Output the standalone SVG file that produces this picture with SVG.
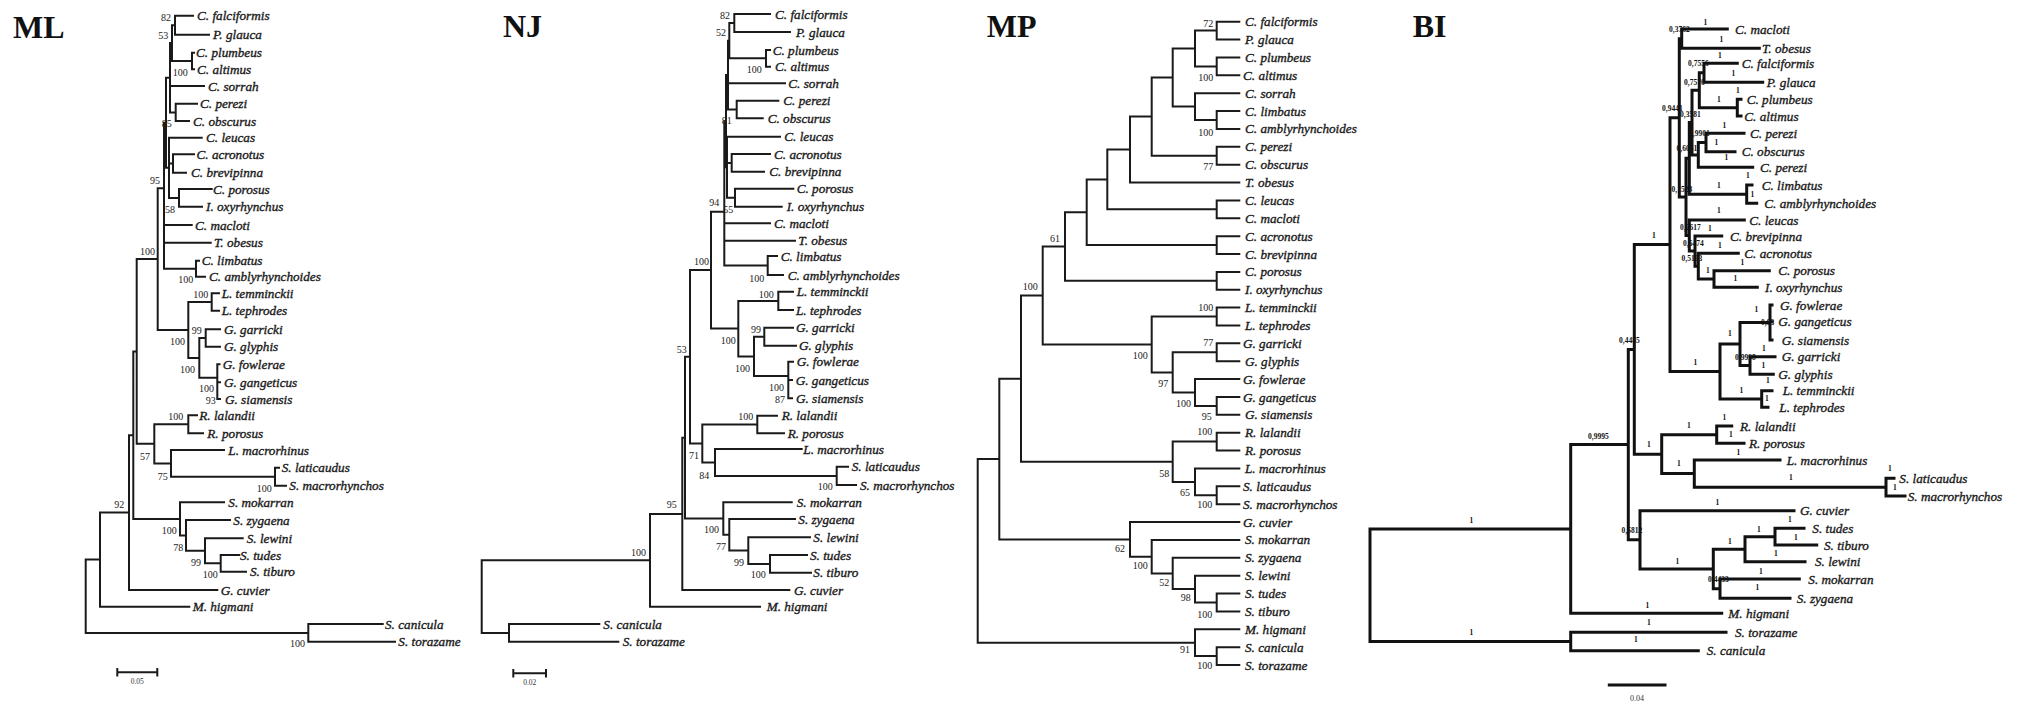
<svg xmlns="http://www.w3.org/2000/svg" width="2027" height="705" viewBox="0 0 2027 705">
<style>
.br{fill:none;stroke:#1a1a1a;stroke-width:2;stroke-linecap:square}
.bb{fill:none;stroke:#111;stroke-width:3;stroke-linecap:square}
.lf{font-family:"Liberation Serif","Times New Roman",serif;font-style:italic;font-size:13.2px;fill:#1a1a1a;stroke:#1a1a1a;stroke-width:0.35}
.bs{font-family:"Liberation Serif","Times New Roman",serif;font-size:10px;fill:#222}
.pp{font-family:"Liberation Serif","Times New Roman",serif;font-size:7.5px;font-weight:bold;fill:#111}
.ti{font-family:"Liberation Serif","Times New Roman",serif;font-size:32px;font-weight:bold;fill:#111}
.sc{font-family:"Liberation Serif","Times New Roman",serif;font-size:7.5px;fill:#333;text-anchor:middle}
</style>
<rect width="2027" height="705" fill="#fff"/>

<g id="tree-ML">
<text class="ti" x="13" y="38">ML</text>
<g id="ml-connectors">
<path class="br" d="M175,15.7V34.7M175,15.7H193M175,34.7H209M192,52.7V69.3M192,52.7H194M192,69.3H194M172,25.2V61M172,25.2H175M172,61H192M175.7,103.7V121M175.7,103.7H197M175.7,121H189M170,43.1V112.4M170,43.1H172M170,86H204M170,112.4H175.7M173,154.3V172.7M173,154.3H194M173,172.7H186M179,189V206.7M179,189H211.7M179,206.7H202M169,137.7V197.9M169,137.7H201.7M169,163.5H173M169,197.9H179M166,77.7V167.8M166,77.7H170M166,167.8H169M196,260.7V276.7M196,260.7H199M196,276.7H205M164,122.8V268.7M164,122.8H166M164,225H191.7M164,242.7H210.7M164,268.7H196M211.7,293.3V310.7M211.7,293.3H219M211.7,310.7H219M205.7,329.3V346.7M205.7,329.3H220M205.7,346.7H220M217.3,364.3V399M217.3,364.3H219.5M217.3,382.3H220M217.3,399H220M199.3,338V377.7M199.3,338H205.7M199.3,377.7H217.3M188.3,302V357.9M188.3,302H211.7M188.3,357.9H199.3M157.7,188.3V330M157.7,188.3H164M157.7,330H188.3M188.3,415.3V433.3M188.3,415.3H197M188.3,433.3H203M275,467.7V485.7M275,467.7H279M275,485.7H286M171,450V476.7M171,450H224M171,476.7H275M154.3,424.3V463.4M154.3,424.3H188.3M154.3,463.4H171M136.7,259V443.8M136.7,259H157.7M136.7,443.8H154.3M220.7,555V571.7M220.7,555H239.3M220.7,571.7H246M205,538.3V563.3M205,538.3H242.7M205,563.3H220.7M186,520V550.8M186,520H230M186,550.8H205M180,502.3V535.4M180,502.3H224M180,535.4H186M133.3,351.4V518.9M133.3,351.4H136.7M133.3,518.9H180M129,435.2V590M129,435.2H133.3M129,590H217.3M100,512.6V606.7M100,512.6H129M100,606.7H189.3M308.3,624V641.7M308.3,624H382.7M308.3,641.7H395M85.7,559.6V632.9M85.7,559.6H100M85.7,632.9H308.3"/>
<path class="br" stroke-width="1" d="M117.3,672.3H157.3M117.3,669V675.6M157.3,669V675.6"/>
</g>
<g id="ml-leaves">
<text class="lf" x="197" y="20.2">C. falciformis</text>
<text class="lf" x="213" y="39.2">P. glauca</text>
<text class="lf" x="196" y="57.2">C. plumbeus</text>
<text class="lf" x="197" y="73.8">C. altimus</text>
<text class="lf" x="208" y="90.5">C. sorrah</text>
<text class="lf" x="200" y="108.2">C. perezi</text>
<text class="lf" x="193" y="125.5">C. obscurus</text>
<text class="lf" x="206" y="142.2">C. leucas</text>
<text class="lf" x="196.5" y="158.8">C. acronotus</text>
<text class="lf" x="191" y="177.2">C. brevipinna</text>
<text class="lf" x="213" y="193.5">C. porosus</text>
<text class="lf" x="206" y="211.2">I. oxyrhynchus</text>
<text class="lf" x="195" y="229.5">C. macloti</text>
<text class="lf" x="214" y="247.2">T. obesus</text>
<text class="lf" x="201.7" y="265.2">C. limbatus</text>
<text class="lf" x="209" y="281.2">C. amblyrhynchoides</text>
<text class="lf" x="221.7" y="297.8">L. temminckii</text>
<text class="lf" x="221.7" y="315.2">L. tephrodes</text>
<text class="lf" x="224" y="333.8">G. garricki</text>
<text class="lf" x="224" y="351.2">G. glyphis</text>
<text class="lf" x="222.7" y="368.8">G. fowlerae</text>
<text class="lf" x="224" y="386.8">G. gangeticus</text>
<text class="lf" x="225" y="403.5">G. siamensis</text>
<text class="lf" x="199.3" y="419.8">R. lalandii</text>
<text class="lf" x="207.3" y="437.8">R. porosus</text>
<text class="lf" x="228.3" y="454.5">L. macrorhinus</text>
<text class="lf" x="281.7" y="472.2">S. laticaudus</text>
<text class="lf" x="289.3" y="490.2">S. macrorhynchos</text>
<text class="lf" x="228.3" y="506.8">S. mokarran</text>
<text class="lf" x="233.3" y="524.5">S. zygaena</text>
<text class="lf" x="246.7" y="542.8">S. lewini</text>
<text class="lf" x="240" y="559.5">S. tudes</text>
<text class="lf" x="250" y="576.2">S. tiburo</text>
<text class="lf" x="220.7" y="594.5">G. cuvier</text>
<text class="lf" x="192.7" y="611.2">M. higmani</text>
<text class="lf" x="385" y="628.5">S. canicula</text>
<text class="lf" x="398.3" y="646.2">S. torazame</text>
</g>
<g id="ml-support">
<text class="bs" x="161" y="20.5">82</text>
<text class="bs" x="158.3" y="39">53</text>
<text class="bs" x="172.7" y="76">100</text>
<text class="bs" x="161.7" y="127">85</text>
<text class="bs" x="150" y="184">95</text>
<text class="bs" x="165" y="213">58</text>
<text class="bs" x="140" y="255">100</text>
<text class="bs" x="178.3" y="283">100</text>
<text class="bs" x="193.3" y="298">100</text>
<text class="bs" x="191.7" y="334">99</text>
<text class="bs" x="170" y="345">100</text>
<text class="bs" x="180" y="372.7">100</text>
<text class="bs" x="199" y="391.7">100</text>
<text class="bs" x="205.7" y="404">93</text>
<text class="bs" x="168.3" y="420">100</text>
<text class="bs" x="140" y="460">57</text>
<text class="bs" x="157.7" y="480">75</text>
<text class="bs" x="256.7" y="491.7">100</text>
<text class="bs" x="114.3" y="508.3">92</text>
<text class="bs" x="161.7" y="534">100</text>
<text class="bs" x="173.3" y="550.7">78</text>
<text class="bs" x="191" y="566">99</text>
<text class="bs" x="202.7" y="578.3">100</text>
<text class="bs" x="290" y="647.3">100</text>
<text class="sc" x="137.3" y="684">0.05</text>
</g>
</g>

<g id="tree-NJ">
<text class="ti" x="503" y="37.3">NJ</text>
<g id="nj-connectors">
<path class="br" d="M734.3,14V32M734.3,14H770M734.3,32H790M766,50V66.7M766,50H770M766,66.7H770M729.3,23V58.3M729.3,23H734.3M729.3,58.3H766M736.7,100.7V118.3M736.7,100.7H778.3M736.7,118.3H762.7M728,40.7V109.5M728,40.7H729.3M728,83.3H785M728,109.5H736.7M731.7,154V171.7M731.7,154H770M731.7,171.7H764M735,188.7V206.7M735,188.7H793.3M735,206.7H781.7M727,136.7V197.7M727,136.7H780M727,162.9H731.7M727,197.7H735M726,75.1V167.2M726,75.1H728M726,167.2H727M767.7,256V275M767.7,256H777M767.7,275H783M724.3,121.2V265.5M724.3,121.2H726M724.3,223.3H770M724.3,240.7H795M724.3,265.5H767.7M778.3,291.7V310M778.3,291.7H793M778.3,310H793M764.3,327.7V345.7M764.3,327.7H793M764.3,345.7H796M788.3,361.7V398.3M788.3,361.7H793M788.3,380H792M788.3,398.3H792M754,336.7V376M754,336.7H764.3M754,376H788.3M738.3,300.9V356.4M738.3,300.9H778.3M738.3,356.4H754M711,211.7V328.6M711,211.7H724.3M711,328.6H738.3M757.3,415.7V433.3M757.3,415.7H777M757.3,433.3H784M836.7,466.7V485M836.7,466.7H848M836.7,485H856M715,449V475.9M715,449H801.7M715,475.9H836.7M702.3,424.5V462.4M702.3,424.5H757.3M702.3,462.4H715M690,270V443.5M690,270H711M690,443.5H702.3M770,555V572.7M770,555H807M770,572.7H811M748.3,537.3V563.9M748.3,537.3H810M748.3,563.9H770M729.3,519V550.6M729.3,519H795M729.3,550.6H748.3M723.3,502.3V534.8M723.3,502.3H791.7M723.3,534.8H729.3M685,356.8V518.6M685,356.8H690M685,518.6H723.3M682.3,437.7V590M682.3,437.7H685M682.3,590H789.3M650,513.9V606.7M650,513.9H682.3M650,606.7H760M509,624V641.7M509,624H599.3M509,641.7H618.3M481.7,560.3V632.9M481.7,560.3H650M481.7,632.9H509"/>
<path class="br" stroke-width="1" d="M513.3,673.3H546M513.3,670V676.6M546,670V676.6"/>
</g>
<g id="nj-leaves">
<text class="lf" x="775" y="18.5">C. falciformis</text>
<text class="lf" x="796" y="36.5">P. glauca</text>
<text class="lf" x="772.7" y="54.5">C. plumbeus</text>
<text class="lf" x="775" y="71.2">C. altimus</text>
<text class="lf" x="788.3" y="87.8">C. sorrah</text>
<text class="lf" x="783.3" y="105.2">C. perezi</text>
<text class="lf" x="767.7" y="122.8">C. obscurus</text>
<text class="lf" x="784.3" y="141.2">C. leucas</text>
<text class="lf" x="774" y="158.5">C. acronotus</text>
<text class="lf" x="769.3" y="176.2">C. brevipinna</text>
<text class="lf" x="796.7" y="193.2">C. porosus</text>
<text class="lf" x="786.7" y="211.2">I. oxyrhynchus</text>
<text class="lf" x="774" y="227.8">C. macloti</text>
<text class="lf" x="798.3" y="245.2">T. obesus</text>
<text class="lf" x="780.7" y="260.5">C. limbatus</text>
<text class="lf" x="787.7" y="279.5">C. amblyrhynchoides</text>
<text class="lf" x="796.7" y="296.2">L. temminckii</text>
<text class="lf" x="796" y="314.5">L. tephrodes</text>
<text class="lf" x="796" y="332.2">G. garricki</text>
<text class="lf" x="799" y="350.2">G. glyphis</text>
<text class="lf" x="796.7" y="366.2">G. fowlerae</text>
<text class="lf" x="795.7" y="384.5">G. gangeticus</text>
<text class="lf" x="796" y="402.8">G. siamensis</text>
<text class="lf" x="781.7" y="420.2">R. lalandii</text>
<text class="lf" x="787.7" y="437.8">R. porosus</text>
<text class="lf" x="803.3" y="453.5">L. macrorhinus</text>
<text class="lf" x="851.7" y="471.2">S. laticaudus</text>
<text class="lf" x="860" y="489.5">S. macrorhynchos</text>
<text class="lf" x="796.7" y="506.8">S. mokarran</text>
<text class="lf" x="798.3" y="523.5">S. zygaena</text>
<text class="lf" x="813.3" y="541.8">S. lewini</text>
<text class="lf" x="810" y="559.5">S. tudes</text>
<text class="lf" x="813.3" y="577.2">S. tiburo</text>
<text class="lf" x="794" y="594.5">G. cuvier</text>
<text class="lf" x="766.7" y="611.2">M. higmani</text>
<text class="lf" x="603.3" y="628.5">S. canicula</text>
<text class="lf" x="622.7" y="646.2">S. torazame</text>
</g>
<g id="nj-support">
<text class="bs" x="720" y="19">82</text>
<text class="bs" x="716" y="36">52</text>
<text class="bs" x="746.7" y="72.5">100</text>
<text class="bs" x="721.7" y="124">81</text>
<text class="bs" x="709.3" y="206">94</text>
<text class="bs" x="723.3" y="213">55</text>
<text class="bs" x="694" y="265">100</text>
<text class="bs" x="749.3" y="282">100</text>
<text class="bs" x="758.7" y="297.5">100</text>
<text class="bs" x="751" y="333">99</text>
<text class="bs" x="720.7" y="344">100</text>
<text class="bs" x="676.7" y="352.5">53</text>
<text class="bs" x="735" y="371.7">100</text>
<text class="bs" x="769" y="390.7">100</text>
<text class="bs" x="775" y="403.3">87</text>
<text class="bs" x="738.3" y="420">100</text>
<text class="bs" x="689" y="459.3">71</text>
<text class="bs" x="699.3" y="479">84</text>
<text class="bs" x="817.7" y="490">100</text>
<text class="bs" x="666.7" y="508">95</text>
<text class="bs" x="704" y="533">100</text>
<text class="bs" x="716" y="550">77</text>
<text class="bs" x="734" y="566">99</text>
<text class="bs" x="750.7" y="578.3">100</text>
<text class="bs" x="631" y="556">100</text>
<text class="sc" x="529.7" y="685">0.02</text>
</g>
</g>

<g id="tree-MP">
<text class="ti" x="986.7" y="36.7">MP</text>
<g id="mp-connectors">
<path class="br" d="M1216.7,21.7V39.57M1216.7,21.7H1239.3M1216.7,39.57H1239.3M1216.7,57.44V75.31M1216.7,57.44H1239.3M1216.7,75.31H1239.3M1195,30.6V66.4M1195,30.6H1216.7M1195,66.4H1216.7M1216.7,111.05V128.92M1216.7,111.05H1239.3M1216.7,128.92H1239.3M1195,93.18V120M1195,93.18H1239.3M1195,120H1216.7M1172.7,48.5V106.6M1172.7,48.5H1195M1172.7,106.6H1195M1216.7,146.79V164.66M1216.7,146.79H1239.3M1216.7,164.66H1239.3M1151.7,77.55V155.7M1151.7,77.55H1172.7M1151.7,155.7H1216.7M1130,116.6V182.53M1130,116.6H1151.7M1130,182.53H1239.3M1216.7,200.4V218.27M1216.7,200.4H1239.3M1216.7,218.27H1239.3M1107.3,149.6V209.3M1107.3,149.6H1130M1107.3,209.3H1216.7M1216.7,236.14V254.01M1216.7,236.14H1239.3M1216.7,254.01H1239.3M1086.7,179.5V245.1M1086.7,179.5H1107.3M1086.7,245.1H1216.7M1216.7,271.88V289.75M1216.7,271.88H1239.3M1216.7,289.75H1239.3M1065,212.3V280.8M1065,212.3H1086.7M1065,280.8H1216.7M1216.7,307.62V325.49M1216.7,307.62H1239.3M1216.7,325.49H1239.3M1216.7,343.36V361.23M1216.7,343.36H1239.3M1216.7,361.23H1239.3M1216.7,396.97V414.84M1216.7,396.97H1239.3M1216.7,414.84H1239.3M1195,379.1V405.9M1195,379.1H1239.3M1195,405.9H1216.7M1172.7,352.3V392.5M1172.7,352.3H1216.7M1172.7,392.5H1195M1151.7,316.6V372.4M1151.7,316.6H1216.7M1151.7,372.4H1172.7M1042.7,246.6V344.5M1042.7,246.6H1065M1042.7,344.5H1151.7M1216.7,432.71V450.58M1216.7,432.71H1239.3M1216.7,450.58H1239.3M1216.7,486.32V504.19M1216.7,486.32H1239.3M1216.7,504.19H1239.3M1195,468.45V495.3M1195,468.45H1239.3M1195,495.3H1216.7M1172.7,441.6V481.9M1172.7,441.6H1216.7M1172.7,481.9H1195M1021,295.6V461.8M1021,295.6H1042.7M1021,461.8H1172.7M1216.7,593.54V611.41M1216.7,593.54H1239.3M1216.7,611.41H1239.3M1195,575.67V602.5M1195,575.67H1239.3M1195,602.5H1216.7M1172.7,557.8V589.1M1172.7,557.8H1239.3M1172.7,589.1H1195M1151.7,539.93V573.4M1151.7,539.93H1239.3M1151.7,573.4H1172.7M1130,522.06V556.7M1130,522.06H1239.3M1130,556.7H1151.7M999.3,378.7V539.4M999.3,378.7H1021M999.3,539.4H1130M1216.7,647.15V665.02M1216.7,647.15H1239.3M1216.7,665.02H1239.3M1195,629.28V656.1M1195,629.28H1239.3M1195,656.1H1216.7M977.7,459V642.7M977.7,459H999.3M977.7,642.7H1195"/>
</g>
<g id="mp-leaves">
<text class="lf" x="1245" y="26.2">C. falciformis</text>
<text class="lf" x="1245" y="44.1">P. glauca</text>
<text class="lf" x="1245" y="61.9">C. plumbeus</text>
<text class="lf" x="1243" y="79.8">C. altimus</text>
<text class="lf" x="1245" y="97.7">C. sorrah</text>
<text class="lf" x="1245" y="115.6">C. limbatus</text>
<text class="lf" x="1245" y="133.4">C. amblyrhynchoides</text>
<text class="lf" x="1245" y="151.3">C. perezi</text>
<text class="lf" x="1245" y="169.2">C. obscurus</text>
<text class="lf" x="1245" y="187">T. obesus</text>
<text class="lf" x="1245" y="204.9">C. leucas</text>
<text class="lf" x="1245" y="222.8">C. macloti</text>
<text class="lf" x="1245" y="240.6">C. acronotus</text>
<text class="lf" x="1245" y="258.5">C. brevipinna</text>
<text class="lf" x="1245" y="276.4">C. porosus</text>
<text class="lf" x="1245" y="294.3">I. oxyrhynchus</text>
<text class="lf" x="1245" y="312.1">L. temminckii</text>
<text class="lf" x="1245" y="330">L. tephrodes</text>
<text class="lf" x="1243" y="347.9">G. garricki</text>
<text class="lf" x="1245" y="365.7">G. glyphis</text>
<text class="lf" x="1243" y="383.6">G. fowlerae</text>
<text class="lf" x="1243" y="401.5">G. gangeticus</text>
<text class="lf" x="1245" y="419.3">G. siamensis</text>
<text class="lf" x="1245" y="437.2">R. lalandii</text>
<text class="lf" x="1245" y="455.1">R. porosus</text>
<text class="lf" x="1245" y="473">L. macrorhinus</text>
<text class="lf" x="1243" y="490.8">S. laticaudus</text>
<text class="lf" x="1243" y="508.7">S. macrorhynchos</text>
<text class="lf" x="1243" y="526.6">G. cuvier</text>
<text class="lf" x="1245" y="544.4">S. mokarran</text>
<text class="lf" x="1245" y="562.3">S. zygaena</text>
<text class="lf" x="1245" y="580.2">S. lewini</text>
<text class="lf" x="1245" y="598">S. tudes</text>
<text class="lf" x="1245" y="615.9">S. tiburo</text>
<text class="lf" x="1245" y="633.8">M. higmani</text>
<text class="lf" x="1245" y="651.7">S. canicula</text>
<text class="lf" x="1245" y="669.5">S. torazame</text>
</g>
<g id="mp-support">
<text class="bs" x="1203.3" y="26.7">72</text>
<text class="bs" x="1198.3" y="81">100</text>
<text class="bs" x="1198.3" y="136">100</text>
<text class="bs" x="1203.3" y="170">77</text>
<text class="bs" x="1050" y="242">61</text>
<text class="bs" x="1022.7" y="289.7">100</text>
<text class="bs" x="1198.3" y="311">100</text>
<text class="bs" x="1203.3" y="346">77</text>
<text class="bs" x="1132.7" y="358.5">100</text>
<text class="bs" x="1158.3" y="387">97</text>
<text class="bs" x="1176" y="407">100</text>
<text class="bs" x="1201.7" y="420">95</text>
<text class="bs" x="1197.3" y="435">100</text>
<text class="bs" x="1159.3" y="477">58</text>
<text class="bs" x="1180" y="496">65</text>
<text class="bs" x="1197.3" y="508">100</text>
<text class="bs" x="1115" y="552">62</text>
<text class="bs" x="1132.7" y="569">100</text>
<text class="bs" x="1159.3" y="586">52</text>
<text class="bs" x="1180.7" y="601">98</text>
<text class="bs" x="1197.3" y="618">100</text>
<text class="bs" x="1180" y="653">91</text>
<text class="bs" x="1197.3" y="669">100</text>
</g>
</g>

<g id="tree-BI">
<text class="ti" x="1412.7" y="36.7">BI</text>
<g id="bi-connectors">
<path class="bb" d="M1681.7,29V48.3M1681.7,29H1727.3M1681.7,48.3H1759.3M1704,63.3V82.3M1704,63.3H1737.3M1704,82.3H1762.7M1737.3,99.3V116M1737.3,99.3H1741M1737.3,116H1741M1699.3,72.8V107.7M1699.3,72.8H1704M1699.3,107.7H1737.3M1706,133.3V151.7M1706,133.3H1744M1706,151.7H1735M1698.3,142.5V167.3M1698.3,142.5H1706M1698.3,167.3H1752.7M1692,90.2V154.9M1692,90.2H1699.3M1692,154.9H1698.3M1746.7,185V203.3M1746.7,185H1752M1746.7,203.3H1756.7M1689.3,122.5V194.2M1689.3,122.5H1692M1689.3,194.2H1746.7M1714,270.7V287.3M1714,270.7H1769.3M1714,287.3H1757.3M1698.3,253.3V279M1698.3,253.3H1738.3M1698.3,279H1714M1695,236V266.2M1695,236H1721.7M1695,266.2H1698.3M1689.3,220V251.1M1689.3,220H1744.3M1689.3,251.1H1695M1686,158.3V235.5M1686,158.3H1689.3M1686,235.5H1689.3M1679.3,38.7V196.9M1679.3,38.7H1681.7M1679.3,196.9H1686M1770,305V340M1770,305H1772M1770,321.7H1772M1770,340H1772M1750,356.7V374.3M1750,356.7H1775M1750,374.3H1773.3M1740,322.5V365.5M1740,322.5H1770M1740,365.5H1750M1761.7,390.7V407.3M1761.7,390.7H1772M1761.7,407.3H1768M1720,344V399M1720,344H1740M1720,399H1761.7M1670,117.8V371.5M1670,117.8H1679.3M1670,371.5H1720M1716.7,426V443.3M1716.7,426H1731.7M1716.7,443.3H1744M1886,478.3V496M1886,478.3H1894M1886,496H1905M1694.3,460V487.2M1694.3,460H1780M1694.3,487.2H1886M1661.7,434.7V473.6M1661.7,434.7H1716.7M1661.7,473.6H1694.3M1634.3,244.6V454.2M1634.3,244.6H1670M1634.3,454.2H1661.7M1775,528.3V545M1775,528.3H1804M1775,545H1816.7M1745,536.7V561.7M1745,536.7H1775M1745,561.7H1805M1720,579V598.3M1720,579H1799.3M1720,598.3H1790M1713.3,549.2V588.7M1713.3,549.2H1745M1713.3,588.7H1720M1640,510.7V569M1640,510.7H1794M1640,569H1713.3M1628.3,349.4V539.8M1628.3,349.4H1634.3M1628.3,539.8H1640M1570.7,444.6V613.3M1570.7,444.6H1628.3M1570.7,613.3H1721.7M1570.7,632.3V650.7M1570.7,632.3H1726M1570.7,650.7H1698.3M1370,529V641.5M1370,529H1570.7M1370,641.5H1570.7"/>
<path class="bb" d="M1609.3,685H1665"/>
</g>
<g id="bi-leaves">
<text class="lf" x="1735" y="33.5">C. macloti</text>
<text class="lf" x="1762" y="52.8">T. obesus</text>
<text class="lf" x="1741.7" y="67.8">C. falciformis</text>
<text class="lf" x="1766.7" y="86.8">P. glauca</text>
<text class="lf" x="1746.7" y="103.8">C. plumbeus</text>
<text class="lf" x="1744.3" y="120.5">C. altimus</text>
<text class="lf" x="1750" y="137.8">C. perezi</text>
<text class="lf" x="1741.7" y="156.2">C. obscurus</text>
<text class="lf" x="1760" y="171.8">C. perezi</text>
<text class="lf" x="1761.7" y="189.5">C. limbatus</text>
<text class="lf" x="1764.3" y="207.8">C. amblyrhynchoides</text>
<text class="lf" x="1749.3" y="224.5">C. leucas</text>
<text class="lf" x="1730" y="240.5">C. brevipinna</text>
<text class="lf" x="1744.3" y="257.8">C. acronotus</text>
<text class="lf" x="1778.3" y="275.2">C. porosus</text>
<text class="lf" x="1765" y="291.8">I. oxyrhynchus</text>
<text class="lf" x="1780" y="309.5">G. fowlerae</text>
<text class="lf" x="1778.3" y="326.2">G. gangeticus</text>
<text class="lf" x="1781.7" y="344.5">G. siamensis</text>
<text class="lf" x="1781.7" y="361.2">G. garricki</text>
<text class="lf" x="1778.3" y="378.8">G. glyphis</text>
<text class="lf" x="1782.7" y="395.2">L. temminckii</text>
<text class="lf" x="1779.3" y="411.8">L. tephrodes</text>
<text class="lf" x="1740" y="430.5">R. lalandii</text>
<text class="lf" x="1749" y="447.8">R. porosus</text>
<text class="lf" x="1786.7" y="464.5">L. macrorhinus</text>
<text class="lf" x="1899.3" y="482.8">S. laticaudus</text>
<text class="lf" x="1907.7" y="500.5">S. macrorhynchos</text>
<text class="lf" x="1800" y="515.2">G. cuvier</text>
<text class="lf" x="1812.3" y="532.8">S. tudes</text>
<text class="lf" x="1824" y="549.5">S. tiburo</text>
<text class="lf" x="1815" y="566.2">S. lewini</text>
<text class="lf" x="1808.3" y="583.5">S. mokarran</text>
<text class="lf" x="1796.7" y="602.8">S. zygaena</text>
<text class="lf" x="1728.3" y="617.8">M. higmani</text>
<text class="lf" x="1735" y="636.8">S. torazame</text>
<text class="lf" x="1706.7" y="655.2">S. canicula</text>
</g>
<g id="bi-support">
<text class="pp" x="1669" y="32">0,3762</text>
<text class="pp" x="1703.5" y="24.5">1</text>
<text class="pp" x="1719.5" y="42">1</text>
<text class="pp" x="1688" y="66">0,7556</text>
<text class="pp" x="1718" y="58">1</text>
<text class="pp" x="1684" y="84.5">0,7576</text>
<text class="pp" x="1731.5" y="75.5">1</text>
<text class="pp" x="1736" y="93">1</text>
<text class="pp" x="1717" y="102">1</text>
<text class="pp" x="1662" y="111">0,9441</text>
<text class="pp" x="1680" y="116.5">0,3581</text>
<text class="pp" x="1689" y="135.5">0,9901</text>
<text class="pp" x="1722.5" y="128">1</text>
<text class="pp" x="1676.5" y="151">0,6051</text>
<text class="pp" x="1714.5" y="144.5">1</text>
<text class="pp" x="1724.5" y="159.5">1</text>
<text class="pp" x="1746" y="178">1</text>
<text class="pp" x="1750.5" y="196.5">1</text>
<text class="pp" x="1717" y="188">1</text>
<text class="pp" x="1671.5" y="191.5">0,1528</text>
<text class="pp" x="1717" y="213">1</text>
<text class="pp" x="1680" y="229.5">0,2617</text>
<text class="pp" x="1708" y="231">1</text>
<text class="pp" x="1683" y="245.5">0,6474</text>
<text class="pp" x="1718" y="248">1</text>
<text class="pp" x="1681.5" y="260.5">0,5133</text>
<text class="pp" x="1740.5" y="264.5">1</text>
<text class="pp" x="1706" y="273">1</text>
<text class="pp" x="1733.5" y="281">1</text>
<text class="pp" x="1754.5" y="312">1</text>
<text class="pp" x="1761" y="325">0,93</text>
<text class="pp" x="1728" y="335.5">1</text>
<text class="pp" x="1762" y="350.5">1</text>
<text class="pp" x="1735" y="359.5">0,9998</text>
<text class="pp" x="1761.5" y="368">1</text>
<text class="pp" x="1693.5" y="364.5">1</text>
<text class="pp" x="1766" y="383">1</text>
<text class="pp" x="1739.5" y="393">1</text>
<text class="pp" x="1765" y="401">1</text>
<text class="pp" x="1619" y="343">0,4485</text>
<text class="pp" x="1652" y="238">1</text>
<text class="pp" x="1588" y="438.5">0,9995</text>
<text class="pp" x="1647" y="447">1</text>
<text class="pp" x="1687" y="428">1</text>
<text class="pp" x="1722.5" y="419.5">1</text>
<text class="pp" x="1729" y="437">1</text>
<text class="pp" x="1677" y="466">1</text>
<text class="pp" x="1736.5" y="454.5">1</text>
<text class="pp" x="1789" y="480">1</text>
<text class="pp" x="1888" y="471">1</text>
<text class="pp" x="1893" y="489.5">1</text>
<text class="pp" x="1715.5" y="504.5">1</text>
<text class="pp" x="1621.5" y="533">0,5812</text>
<text class="pp" x="1788" y="522">1</text>
<text class="pp" x="1757" y="532">1</text>
<text class="pp" x="1794" y="539.5">1</text>
<text class="pp" x="1728" y="544">1</text>
<text class="pp" x="1774" y="556">1</text>
<text class="pp" x="1675.5" y="564">1</text>
<text class="pp" x="1759" y="573.5">1</text>
<text class="pp" x="1708" y="582">0,4433</text>
<text class="pp" x="1755.5" y="590">1</text>
<text class="pp" x="1645.5" y="608">1</text>
<text class="pp" x="1647" y="624.5">1</text>
<text class="pp" x="1634" y="642">1</text>
<text class="pp" x="1469.5" y="523">1</text>
<text class="pp" x="1469.5" y="634.5">1</text>
<text class="sc" x="1637" y="701" style="font-size:8px">0.04</text>
</g>
</g>
</svg>
